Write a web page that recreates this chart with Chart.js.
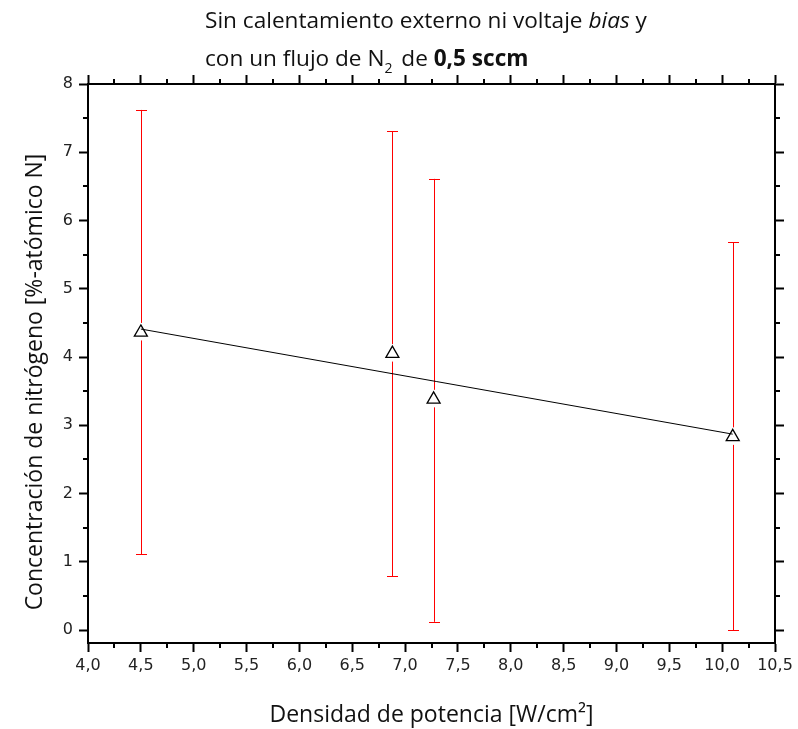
<!DOCTYPE html>
<html>
<head>
<meta charset="utf-8">
<script src="https://cdn.jsdelivr.net/npm/chart.js@4"></script>
<style>
  html, body { margin: 0; padding: 0; background: #fff; }
  #wrap { width: 798px; height: 729px; }
</style>
</head>
<body>
<div id="wrap"><canvas id="chartN"></canvas></div>
<script>
// datos
const densidad = [4.5, 6.88, 7.27, 10.1];
const concentracion = [4.36, 4.05, 3.38, 2.83];
const errSup = [7.62, 7.31, 6.61, 5.68];
const errInf = [1.11, 0.79, 0.12, 0.0];
const ajusteX = [4.5, 10.1];
const ajusteY = [4.41, 2.87];

const fmtComa = v => v.toFixed(1).replace('.', ',');

// barras de error con hueco alrededor del marcador
const barrasError = {
    id: 'barrasError',
    beforeDatasetsDraw(chart) {
        const { ctx, scales: { x, y } } = chart;
        ctx.save();
        ctx.strokeStyle = '#ff0000';
        ctx.lineWidth = 1;
        densidad.forEach((d, i) => {
            const px = Math.round(x.getPixelForValue(d)) + 0.5;
            const pc = y.getPixelForValue(concentracion[i]);
            const pt = y.getPixelForValue(errSup[i]);
            const pb = y.getPixelForValue(errInf[i]);
            ctx.beginPath();
            ctx.moveTo(px, pt); ctx.lineTo(px, pc - 9.5);
            ctx.moveTo(px, pc + 8); ctx.lineTo(px, pb);
            ctx.moveTo(px - 5.5, Math.round(pt) + 0.5); ctx.lineTo(px + 5.5, Math.round(pt) + 0.5);
            ctx.moveTo(px - 5.5, Math.round(pb) + 0.5); ctx.lineTo(px + 5.5, Math.round(pb) + 0.5);
            ctx.stroke();
        });
        ctx.restore();
    }
};

// marcas menores en los cuatro lados
const marcasMenores = {
    id: 'marcasMenores',
    afterDraw(chart) {
        const { ctx, chartArea: a, scales: { x, y } } = chart;
        ctx.save();
        ctx.strokeStyle = '#000';
        ctx.lineWidth = 2;
        ctx.beginPath();
        for (let v = 4.25; v < 10.5; v += 0.5) {
            const px = Math.round(x.getPixelForValue(v));
            ctx.moveTo(px, a.bottom); ctx.lineTo(px, a.bottom + 5);
            ctx.moveTo(px, a.top); ctx.lineTo(px, a.top - 5);
        }
        for (let v = 0.5; v < 8; v += 1) {
            const py = Math.round(y.getPixelForValue(v));
            ctx.moveTo(a.left, py); ctx.lineTo(a.left - 5, py);
            ctx.moveTo(a.right, py); ctx.lineTo(a.right + 5, py);
        }
        ctx.stroke();
        ctx.restore();
    }
};

// título con cursiva, negrita y subíndice + título del eje y
const textos = {
    id: 'textos',
    afterDraw(chart) {
        const ctx = chart.ctx;
        const fam = '"Open Sans", sans-serif';
        const piezas1 = [
            ['Sin calentamiento externo ni voltaje ', 'normal', 22.6, 0],
            ['bias', 'italic', 22.6, 0],
            [' y', 'normal', 22.6, 0]
        ];
        const piezas2 = [
            ['con un flujo de N', 'normal', 22.6, 0],
            ['2', 'normal', 14, 7],
            [' de ', 'normal', 22.6, 0],
            ['0,5 sccm', 'bold', 22.6, 0]
        ];
        ctx.save();
        ctx.fillStyle = '#111';
        ctx.textBaseline = 'alphabetic';
        [[piezas1, 28], [piezas2, 66]].forEach(([piezas, base]) => {
            let xx = 205;
            piezas.forEach(([t, st, sz, dy]) => {
                ctx.font = `${st} ${sz}px ${fam}`;
                ctx.fillText(t, xx, base + dy);
                xx += ctx.measureText(t).width + (dy ? 3 : 0);
            });
        });
        ctx.translate(35, 382);
        ctx.rotate(-Math.PI / 2);
        ctx.textAlign = 'center';
        ctx.textBaseline = 'middle';
        ctx.font = `normal 23px ${fam}`;
        ctx.fillText('Concentración de nitrógeno [%-atómico N]', 0, 0);
        ctx.restore();
    }
};

const ejeComun = {
    border: { display: true, color: '#000', width: 2 },
    grid: { display: true, drawOnChartArea: false, drawTicks: true, tickLength: 9, tickColor: '#000', tickWidth: 2 }
};

new Chart(document.getElementById('chartN'), {
    type: 'scatter',
    data: {
        datasets: [{
            type: 'line',
            label: 'ajuste',
            data: ajusteX.map((v, i) => ({ x: v, y: ajusteY[i] })),
            borderColor: '#000',
            borderWidth: 1,
            pointRadius: 0,
            fill: false
        }, {
            label: 'concentración',
            data: densidad.map((v, i) => ({ x: v, y: concentracion[i] })),
            pointStyle: 'triangle',
            pointRadius: 7.5,
            pointHoverRadius: 7.5,
            pointBorderWidth: 1.3,
            pointBorderColor: '#000',
            pointBackgroundColor: '#fff'
        }]
    },
    options: {
        responsive: true,
        maintainAspectRatio: false,
        animation: false,
        layout: { padding: 0 },
        plugins: {
            legend: { display: false },
            tooltip: { enabled: false },
            title: { display: false }
        },
        scales: {
            x: {
                ...ejeComun,
                type: 'linear', position: 'bottom',
                min: 4.0, max: 10.5,
                afterFit: s => { s.height = 86; },
                ticks: {
                    stepSize: 0.5, includeBounds: false, padding: 4,
                    color: '#222', font: { family: '"DejaVu Sans", sans-serif', size: 16 },
                    callback: v => fmtComa(v), maxRotation: 0, autoSkip: false
                },
                title: {
                    display: true, text: 'Densidad de potencia [W/cm²]', color: '#111',
                    font: { family: '"Open Sans", sans-serif', size: 23 },
                    padding: { top: 5, bottom: 0 }
                }
            },
            x2: {
                ...ejeComun,
                type: 'linear', position: 'top',
                min: 4.0, max: 10.5,
                afterFit: s => { s.height = 84; },
                ticks: { stepSize: 0.5, includeBounds: false, display: false }
            },
            y: {
                ...ejeComun,
                type: 'linear', position: 'left',
                min: -0.19, max: 8,
                afterFit: s => { s.width = 88; },
                ticks: {
                    stepSize: 1, includeBounds: false, padding: 6,
                    color: '#222', font: { family: '"DejaVu Sans", sans-serif', size: 16 }
                }
            },
            y2: {
                ...ejeComun,
                type: 'linear', position: 'right',
                min: -0.19, max: 8,
                afterFit: s => { s.width = 23; },
                ticks: { stepSize: 1, includeBounds: false, display: false }
            }
        }
    },
    plugins: [barrasError, marcasMenores, textos]
});
</script>
</body>
</html>
